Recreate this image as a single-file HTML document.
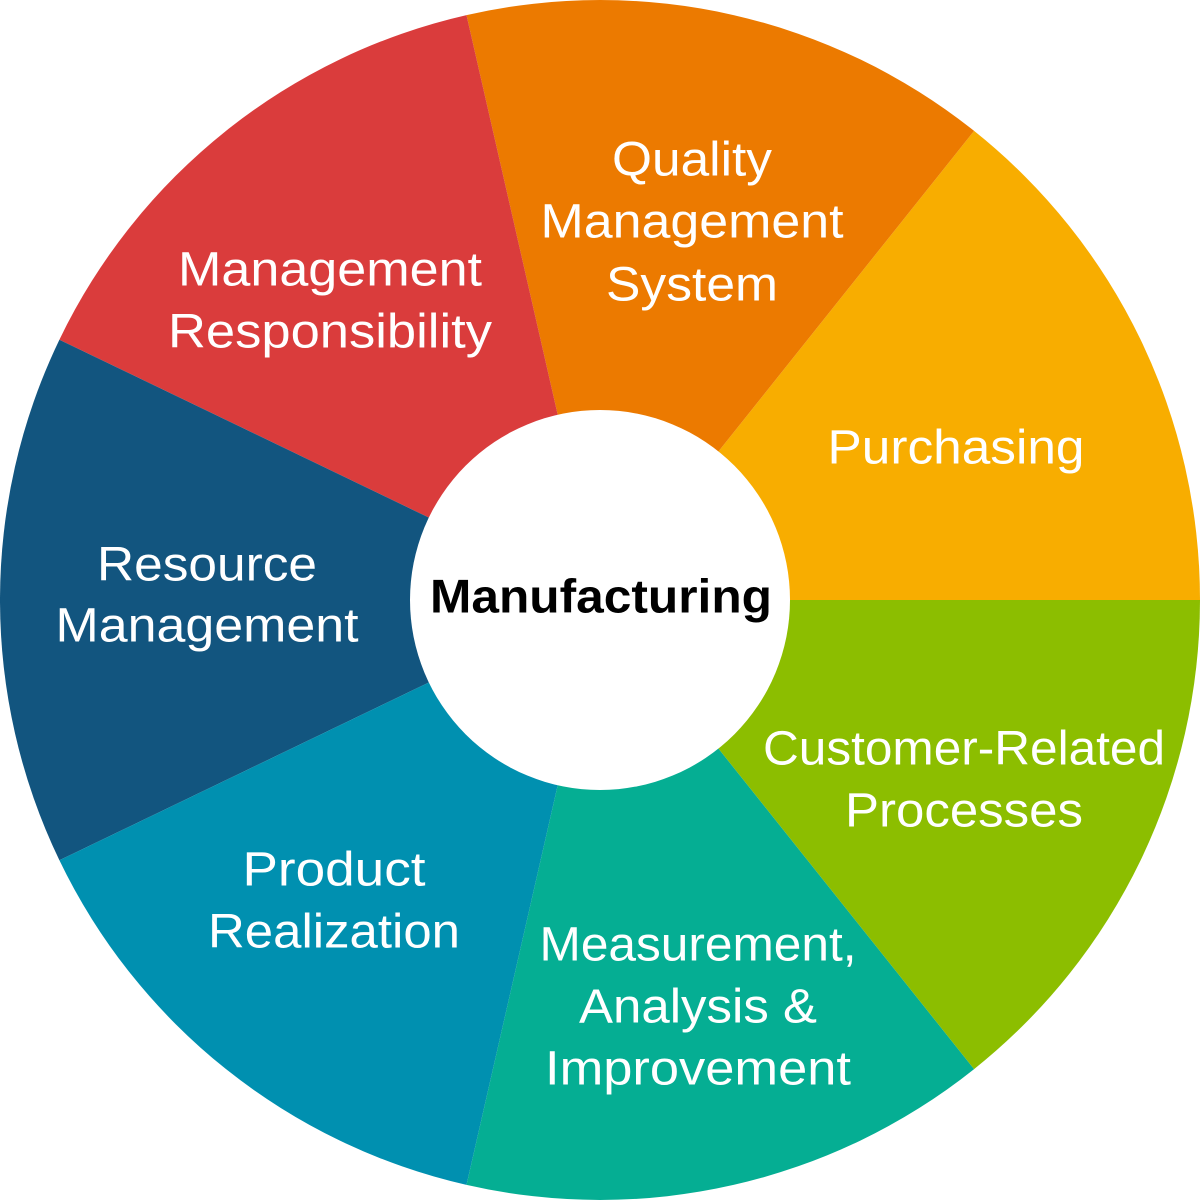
<!DOCTYPE html>
<html><head><meta charset="utf-8"><style>
html,body{margin:0;padding:0;background:#fff;}
svg{display:block;}
text{font-family:"Liberation Sans",Helvetica,Arial,sans-serif;}
</style></head><body>
<svg width="1200" height="1200" viewBox="0 0 1200 1200">
<path d="M600,600 L1200,600 A600,600 0 0,0 974.1,130.9 Z" fill="#F8AD00"/>
<path d="M600,600 L974.1,130.9 A600,600 0 0,0 466.5,15.1 Z" fill="#EC7A00"/>
<path d="M600,600 L466.5,15.1 A600,600 0 0,0 59.4,339.7 Z" fill="#DA3C3C"/>
<path d="M600,600 L59.4,339.7 A600,600 0 0,0 59.4,860.3 Z" fill="#12557F"/>
<path d="M600,600 L59.4,860.3 A600,600 0 0,0 466.5,1184.9 Z" fill="#0090B0"/>
<path d="M600,600 L466.5,1184.9 A600,600 0 0,0 974.1,1069.1 Z" fill="#05AE93"/>
<path d="M600,600 L974.1,1069.1 A600,600 0 0,0 1200,600 Z" fill="#8CBE00"/>
<circle cx="600" cy="600" r="190" fill="#fff"/>
<g fill="#fff" font-size="48" text-anchor="middle" dominant-baseline="central" lengthAdjust="spacingAndGlyphs">
<text x="692" y="160" textLength="160" lengthAdjust="spacingAndGlyphs">Quality</text>
<text x="692" y="222" textLength="303" lengthAdjust="spacingAndGlyphs">Management</text>
<text x="692" y="285" textLength="172" lengthAdjust="spacingAndGlyphs">System</text>
<text x="330" y="270" textLength="304" lengthAdjust="spacingAndGlyphs">Management</text>
<text x="330" y="332" textLength="324" lengthAdjust="spacingAndGlyphs">Responsibility</text>
<text x="956" y="448" textLength="257" lengthAdjust="spacingAndGlyphs">Purchasing</text>
<text x="207" y="565" textLength="220" lengthAdjust="spacingAndGlyphs">Resource</text>
<text x="207" y="626" textLength="303" lengthAdjust="spacingAndGlyphs">Management</text>
<text x="964" y="749" textLength="402" lengthAdjust="spacingAndGlyphs">Customer-Related</text>
<text x="964" y="811" textLength="238" lengthAdjust="spacingAndGlyphs">Processes</text>
<text x="334" y="870" textLength="183" lengthAdjust="spacingAndGlyphs">Product</text>
<text x="334" y="932" textLength="252" lengthAdjust="spacingAndGlyphs">Realization</text>
<text x="698" y="945" textLength="317" lengthAdjust="spacingAndGlyphs">Measurement,</text>
<text x="698" y="1007" textLength="238" lengthAdjust="spacingAndGlyphs">Analysis &amp;</text>
<text x="698" y="1069" textLength="306" lengthAdjust="spacingAndGlyphs">Improvement</text>
</g>
<text x="601" y="596" font-size="47" font-weight="bold" fill="#000" text-anchor="middle" dominant-baseline="central" textLength="342" lengthAdjust="spacingAndGlyphs">Manufacturing</text>
</svg>
</body></html>
